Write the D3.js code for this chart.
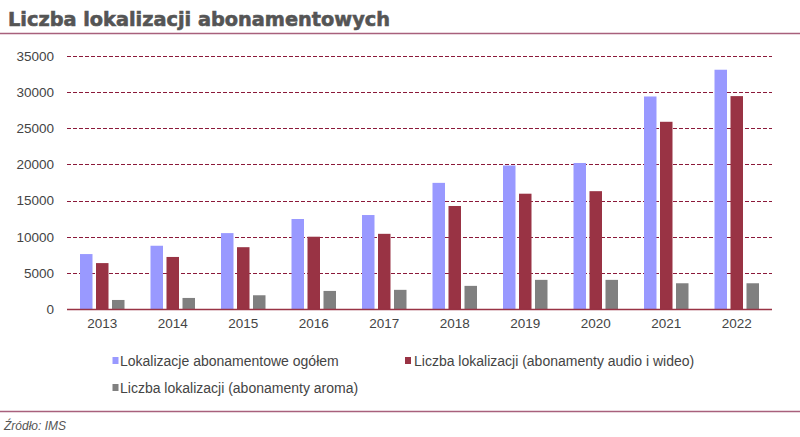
<!DOCTYPE html>
<html><head><meta charset="utf-8">
<script src="https://cdn.jsdelivr.net/npm/d3@7"></script>
<style>body{margin:0;background:#fff}svg{display:block}</style>
</head><body>
<script>
const years = ["2013","2014","2015","2016","2017","2018","2019","2020","2021","2022"];
const total = [7600, 8750, 10500, 12450, 13000, 17450, 19850, 20200, 29400, 33100];
const audioVideo = [6350, 7200, 8550, 10000, 10400, 14250, 15950, 16300, 25900, 29450];
const aroma = [1250, 1530, 1900, 2500, 2650, 3200, 4030, 4030, 3560, 3560];
const seriesNames = ["Lokalizacje abonamentowe ogółem", "Liczba lokalizacji (abonamenty audio i wideo)", "Liczba lokalizacji (abonamenty aroma)"];
const colors = ["#9999FF", "#993344", "#808080"];
const yTicks = [0, 5000, 10000, 15000, 20000, 25000, 30000, 35000];

const W = 800, H = 437;
const svg = d3.select("body").append("svg").attr("width", W).attr("height", H);
const font = "'Liberation Sans', Arial, sans-serif";

// title
svg.append("text").attr("x", 8).attr("y", 26)
  .attr("font-family", "'DejaVu Sans', sans-serif").attr("font-weight", "bold")
  .attr("font-size", 19).attr("fill", "#555").attr("stroke", "#555").attr("stroke-width", 0.6)
  .attr("textLength", 382).attr("lengthAdjust", "spacingAndGlyphs")
  .text("Liczba lokalizacji abonamentowych");
svg.append("line").attr("x1", 0).attr("x2", W).attr("y1", 33.5).attr("y2", 33.5)
  .attr("stroke", "#a8607c").attr("stroke-width", 1.5);

const x0 = d3.scaleBand().domain(years).range([67, 772]);
const y = d3.scaleLinear().domain([0, 35000]).range([309, 56]);
const series = [total, audioVideo, aroma];
const bw = 12.5, step = 16;

// gridlines
svg.append("g").selectAll("line").data(yTicks.filter(d => d > 0)).join("line")
  .attr("x1", 67).attr("x2", 772).attr("y1", d => Math.round(y(d)) + 0.5).attr("y2", d => Math.round(y(d)) + 0.5)
  .attr("stroke", "#8b1a3a").attr("stroke-width", 1.2).attr("stroke-dasharray", "4,2");

// y axis labels
const yAxis = d3.axisLeft(y).tickValues(yTicks).tickSize(0).tickPadding(0).tickFormat(d3.format("d"));
const gy = svg.append("g").attr("transform", "translate(54,0)").call(yAxis);
gy.select(".domain").remove();
gy.selectAll("text").attr("font-family", font).attr("font-size", 13.5).attr("fill", "#444");

// bars
series.forEach((vals, si) => {
  svg.append("g").selectAll("rect").data(vals).join("rect")
    .attr("x", (d, i) => x0(years[i]) + x0.bandwidth() / 2 + (si - 1) * step - bw / 2)
    .attr("width", bw)
    .attr("y", d => y(d))
    .attr("height", d => y(0) - y(d))
    .attr("fill", colors[si]);
});

// baseline
svg.append("line").attr("x1", 67).attr("x2", 772).attr("y1", 309.5).attr("y2", 309.5)
  .attr("stroke", "#993344").attr("stroke-width", 1.5);

// x axis labels
const xAxis = d3.axisBottom(x0).tickSize(0).tickPadding(0);
const gx = svg.append("g").attr("transform", "translate(0,318)").call(xAxis);
gx.select(".domain").remove();
gx.selectAll("text").attr("font-family", font).attr("font-size", 13.5).attr("fill", "#444").attr("dy", "0.71em");

// legend
const legLayout = [{x: 112.5, y: 361, tx: 7.5}, {x: 405, y: 361, tx: 9}, {x: 112.5, y: 388, tx: 7.5}];
seriesNames.forEach((n, i) => {
  const L = legLayout[i];
  const g = svg.append("g").attr("transform", `translate(${L.x},${L.y})`);
  g.append("rect").attr("x", 0).attr("y", -4).attr("width", 6).attr("height", 7).attr("fill", colors[i]);
  g.append("text").attr("x", L.tx).attr("y", 0).attr("dy", "0.35em")
    .attr("font-family", font).attr("font-size", 14).attr("fill", "#444").text(n);
});

// bottom line & source
svg.append("line").attr("x1", 0).attr("x2", W).attr("y1", 411.5).attr("y2", 411.5)
  .attr("stroke", "#a8607c").attr("stroke-width", 1.5);
svg.append("text").attr("x", 4).attr("y", 430).attr("font-family", font).attr("font-style", "italic")
  .attr("font-size", 12).attr("fill", "#555").text("Źródło: IMS");
</script>
</body></html>
